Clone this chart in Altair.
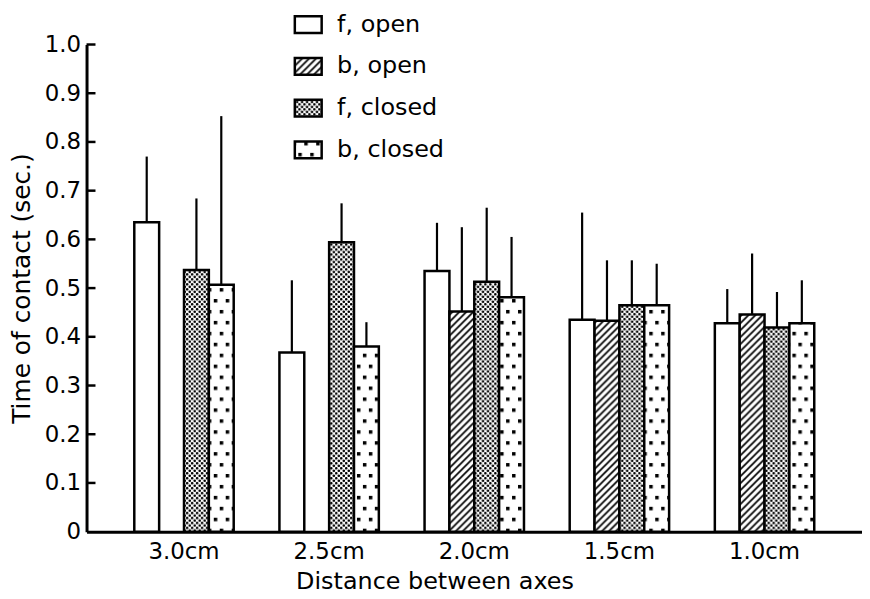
import altair as alt
import pandas as pd
import altair.utils.html as _ah

# ---------------- data ----------------
groups = ["3.0cm", "2.5cm", "2.0cm", "1.5cm", "1.0cm"]
series = ["f, open", "b, open", "f, closed", "b, closed"]

f_open = [0.635, 0.368, 0.535, 0.435, 0.428]
f_open_err = [0.770, 0.516, 0.634, 0.655, 0.498]
b_open = [None, None, 0.452, 0.433, 0.446]
b_open_err = [None, None, 0.625, 0.557, 0.571]
f_closed = [0.537, 0.594, 0.513, 0.465, 0.419]
f_closed_err = [0.684, 0.674, 0.665, 0.557, 0.492]
b_closed = [0.507, 0.380, 0.481, 0.465, 0.428]
b_closed_err = [0.853, 0.430, 0.605, 0.550, 0.516]

y_ticks = [0.0, 0.1, 0.2, 0.3, 0.4, 0.5, 0.6, 0.7, 0.8, 0.9, 1.0]

rows = []
for name, vals, errs in [
    ("f, open", f_open, f_open_err),
    ("b, open", b_open, b_open_err),
    ("f, closed", f_closed, f_closed_err),
    ("b, closed", b_closed, b_closed_err),
]:
    for g, v, e in zip(groups, vals, errs):
        if v is not None:
            rows.append({"group": g, "series": name, "value": v, "err": e})
df = pd.DataFrame(rows)
tick_df = pd.DataFrame({"v": y_ticks[1:]})

# ---------------- fill patterns (SVG defs injected in the page) ----------------
PATTERN_DEFS = """<svg width="0" height="0" style="position:absolute;left:0;top:0"><defs>
<pattern id="hatch" patternUnits="userSpaceOnUse" width="7" height="7">
<rect width="7" height="7" fill="white"/>
<path d="M-2,2 L2,-2 M0,7 L7,0 M5,9 L9,5" stroke="black" stroke-width="1.7"/></pattern>
<pattern id="cross" patternUnits="userSpaceOnUse" width="5" height="5">
<rect width="5" height="5" fill="white"/>
<circle cx="1.25" cy="1.25" r="1.3" fill="black"/><circle cx="3.75" cy="3.75" r="1.3" fill="black"/></pattern>
<pattern id="dots" patternUnits="userSpaceOnUse" width="12" height="22">
<rect width="12" height="22" fill="white"/>
<rect x="2" y="3" width="3.5" height="3.5" fill="black"/>
<rect x="8" y="14" width="3.5" height="3.5" fill="black"/></pattern>
</defs></svg>"""

_std = _ah.TEMPLATES["standard"]


class _WithPatterns:
    def render(self, *args, **kwargs):
        html = _std.render(*args, **kwargs)
        return html.replace("<body>", "<body>\n" + PATTERN_DEFS, 1)


_ah.TEMPLATES["standard"] = _WithPatterns()

fills = ["white", "url(#hatch)", "url(#cross)", "url(#dots)"]

FONT = "DejaVu Sans"

x_enc = alt.X(
    "group:N",
    sort=groups,
    scale=alt.Scale(domain=groups, paddingInner=0.315, paddingOuter=0.329),
    axis=alt.Axis(
        title="Distance between axes",
        labelAngle=0,
        ticks=False,
        tickSize=0,
        labelPadding=9,
        labelFontSize=23,
        domainWidth=3,
        domainColor="black",
        titleFontSize=24,
        titleFontWeight="normal",
        titleX=350,
        titleY=50,
        titleAlign="center",
        titleBaseline="middle",
    ),
)
xoff_enc = alt.XOffset(
    "series:N", sort=series, scale=alt.Scale(domain=series, paddingInner=0, paddingOuter=0)
)
y_enc = alt.Y(
    "value:Q",
    scale=alt.Scale(domain=[0, 1], nice=False, zero=True),
    axis=alt.Axis(
        title="Time of contact (sec.)",
        values=y_ticks,
        ticks=False,
        tickSize=0,
        grid=False,
        labelPadding=6,
        labelFontSize=23,
        labelExpr="datum.value == 0 ? '0' : format(datum.value, '.1f')",
        domainWidth=3,
        domainColor="black",
        titleFontSize=25,
        titleFontWeight="normal",
        titleAngle=270,
        titleX=-65,
        titleY=245,
        titleAlign="center",
        titleBaseline="middle",
    ),
)

errs = alt.Chart(df).mark_rule(color="black", strokeWidth=2.2).encode(
    x=x_enc, xOffset=xoff_enc, y=y_enc, y2="err:Q"
)

bars = alt.Chart(df).mark_bar(stroke="black", strokeWidth=2.5, opacity=1).encode(
    x=x_enc,
    xOffset=xoff_enc,
    y=y_enc,
    fill=alt.Fill(
        "series:N",
        sort=series,
        scale=alt.Scale(domain=series, range=fills),
        legend=alt.Legend(
            title=None,
            orient="none",
            legendX=208,
            legendY=-35,
            padding=0,
            labelFontSize=24,
            labelOffset=14,
            rowPadding=13,
            symbolType="M-1,-0.62H1V0.62H-1Z",
            symbolSize=729,
            symbolStrokeColor="black",
            symbolStrokeWidth=2.5,
            symbolOpacity=1,
        ),
    ),
)

ticks = alt.Chart(tick_df).mark_rule(color="black", strokeWidth=2.5).encode(
    y=alt.Y("v:Q"), x=alt.value(0), x2=alt.value(9)
)

chart = (
    alt.layer(errs, bars, ticks)
    .properties(
        width=780,
        height=490,
        autosize=alt.AutoSizeParams(type="none"),
        padding={"left": 79, "top": 35, "right": 0, "bottom": 66},
        background="white",
    )
    .configure(font=FONT)
    .configure_view(stroke=None)
    .configure_axis(labelColor="black", titleColor="black")
    .configure_legend(labelColor="black")
)

chart.save("out.html", embed_options={"renderer": "svg", "actions": False})
